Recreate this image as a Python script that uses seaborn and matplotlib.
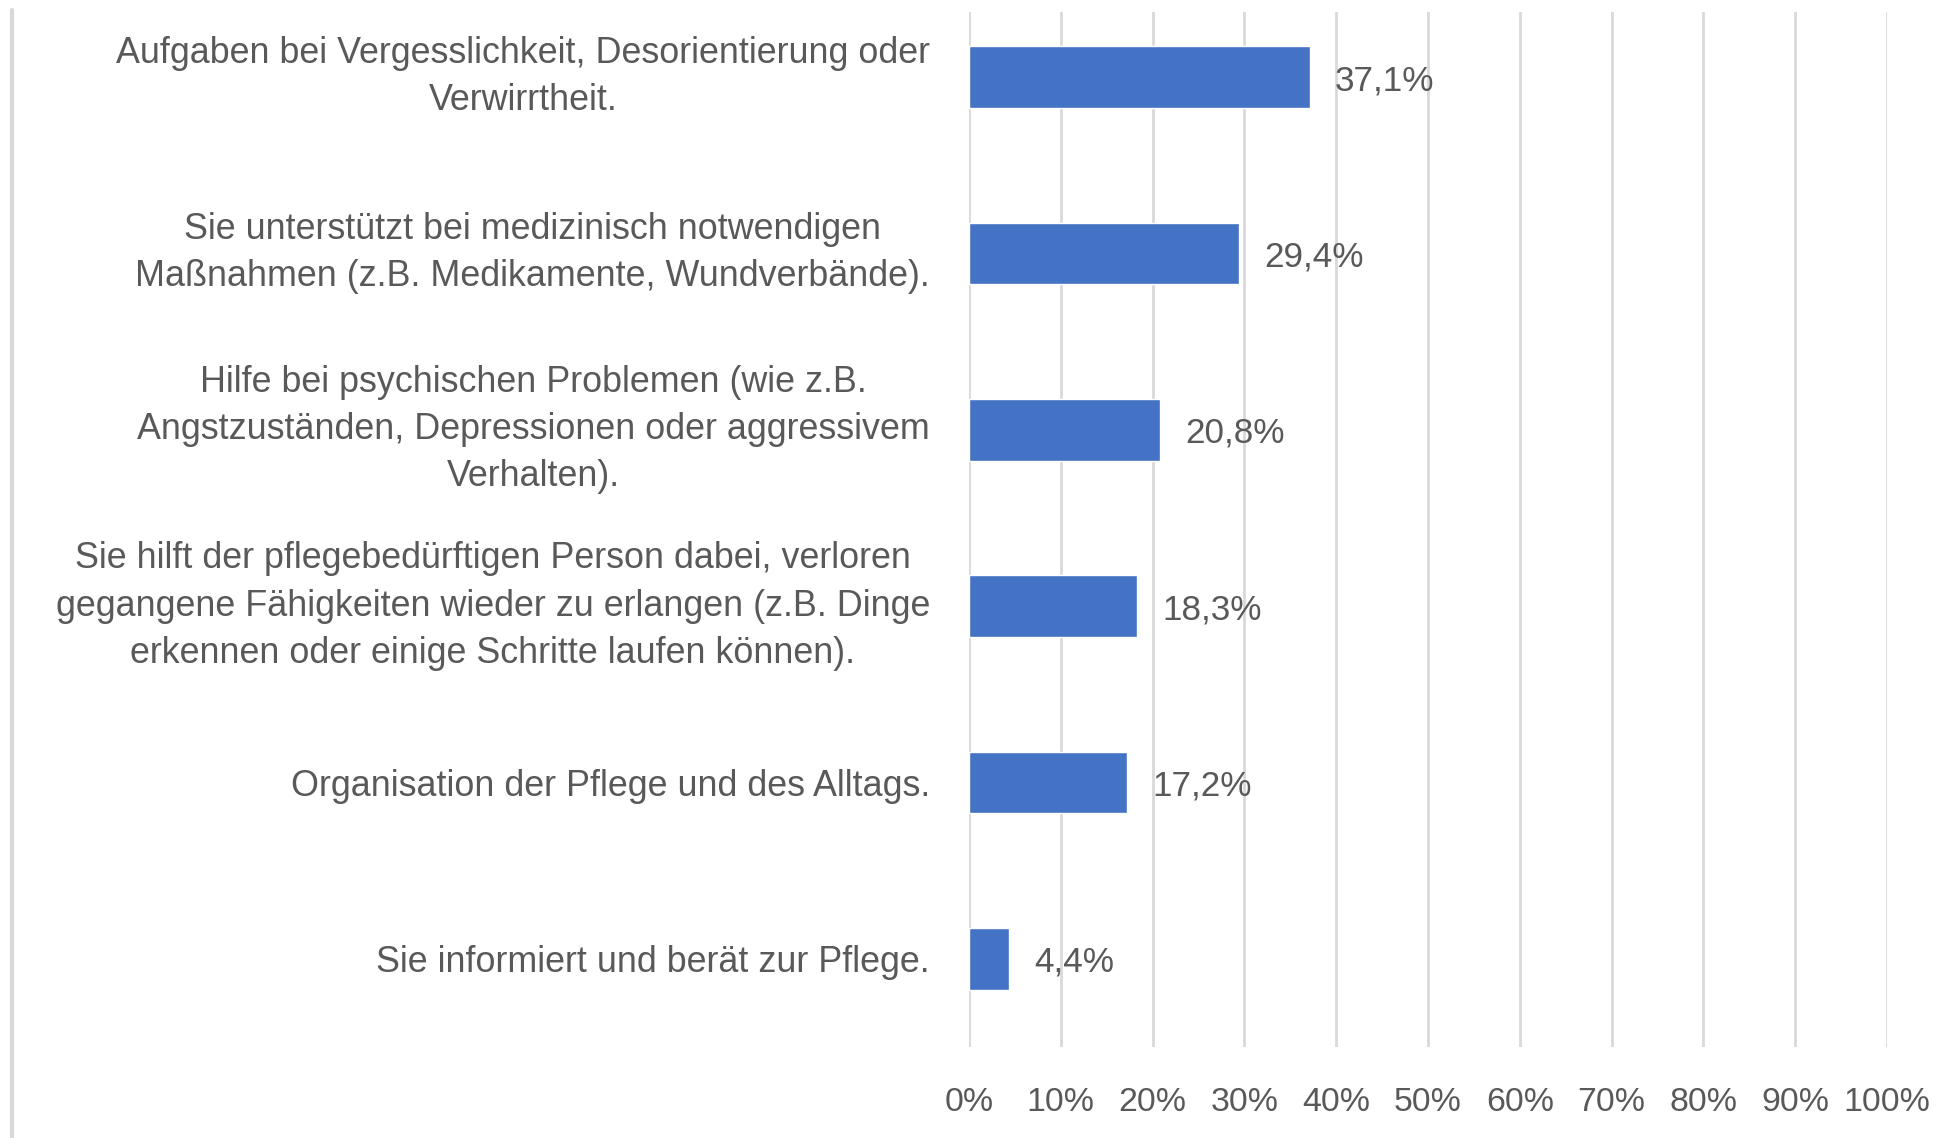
import matplotlib
matplotlib.use("Agg")
import matplotlib.pyplot as plt
import seaborn as sns
import pandas as pd
from matplotlib.lines import Line2D

categories = [
    "Aufgaben bei Vergesslichkeit, Desorientierung oder\nVerwirrtheit.",
    "Sie unterstützt bei medizinisch notwendigen\nMaßnahmen (z.B. Medikamente, Wundverbände).",
    "Hilfe bei psychischen Problemen (wie z.B.\nAngstzuständen, Depressionen oder aggressivem\nVerhalten).",
    "Sie hilft der pflegebedürftigen Person dabei, verloren\ngegangene Fähigkeiten wieder zu erlangen (z.B. Dinge\nerkennen oder einige Schritte laufen können).",
    "Organisation der Pflege und des Alltags.",
    "Sie informiert und berät zur Pflege.",
]
values = [37.1, 29.4, 20.8, 18.3, 17.2, 4.4]
value_labels = ["37,1%", "29,4%", "20,8%", "18,3%", "17,2%", "4,4%"]
x_ticks = [0, 10, 20, 30, 40, 50, 60, 70, 80, 90, 100]
x_tick_labels = [f"{t}%" for t in x_ticks]

sns.set_style("white")
plt.rcParams['font.family'] = ['Liberation Sans', 'DejaVu Sans']

TEXT = "#595959"
BAR = "#4472C4"
GRID = "#D9D9D9"

W, H = 1953, 1138
fig = plt.figure(figsize=(W / 100, H / 100), dpi=100)
ax = fig.add_axes([969 / W, 1 - 1047 / H, (1887 - 969) / W, (1047 - 12) / H])

df = pd.DataFrame({"cat": categories, "val": values})
sns.barplot(data=df, x="val", y="cat", orient="h", color=BAR, saturation=1,
            width=0.35, ax=ax, zorder=3)

ax.set_xlim(0, 100)
ax.set_ylim(5.5, -0.369)
ax.set_xticks(x_ticks)
ax.set_xticklabels(x_tick_labels)
ax.xaxis.grid(True, color=GRID, linewidth=2, zorder=0)
ax.set_axisbelow(True)
for s in ax.spines.values():
    s.set_visible(False)
ax.set_xlabel("")
ax.set_ylabel("")
ax.tick_params(axis="x", length=0, pad=29, labelsize=24.4, labelcolor=TEXT)
ax.tick_params(axis="y", length=0, pad=28, labelsize=25.8, labelcolor=TEXT)
for lab in ax.get_yticklabels():
    lab.set_multialignment("center")
    lab.set_linespacing(1.45)
    if "\n" in lab.get_text():
        lab.set_verticalalignment("center")

texts = ax.bar_label(ax.containers[0], labels=value_labels, padding=18,
                     fontsize=25.3, color=TEXT)
for t in texts:
    t.set_verticalalignment("center_baseline")

fig.add_artist(Line2D([12 / W, 12 / W], [0, 1 - 10 / H], color=GRID, linewidth=3,
                      transform=fig.transFigure))

fig.savefig("out.png", dpi=100, facecolor="white")
